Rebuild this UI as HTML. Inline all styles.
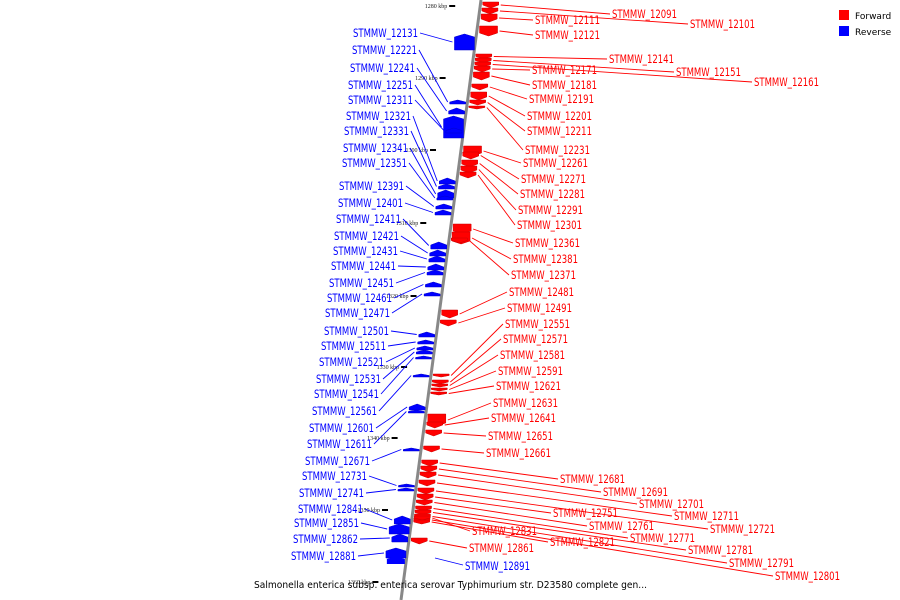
<!DOCTYPE html>
<html><head><meta charset="utf-8"><style>
body{margin:0;background:#fff;}
svg{display:block;font-family:"DejaVu Sans","Liberation Sans",sans-serif;}
</style></head><body>
<svg id="chart" width="900" height="600" xmlns="http://www.w3.org/2000/svg">
<line x1="481" y1="0" x2="401" y2="600" stroke="#888" stroke-width="3"/>
<g id="ticks"></g><g id="feats"></g><g id="leaders"></g><g id="labels"></g>
<g>
<rect x="839" y="10" width="10" height="10" fill="#f00"/>
<text x="855" y="19" font-size="9">Forward</text>
<rect x="839" y="26" width="10" height="10" fill="#00f"/>
<text x="855" y="35" font-size="9">Reverse</text>
</g>
<text x="254" y="588" font-size="9.5" textLength="393" lengthAdjust="spacingAndGlyphs">Salmonella enterica subsp. enterica serovar Typhimurium str. D23580 complete gen...</text>
</svg>
<script>
const NS="http://www.w3.org/2000/svg";
const fwdNames=["12091","12101","12111","12121","12141","12151","12161","12171","12181","12191","12201","12211","12231","12261","12271","12281","12291","12301","12361","12381","12371","12481","12491","12551","12571","12581","12591","12621","12631","12641","12651","12661","12681","12691","12701","12711","12721","12751","12761","12771","12781","12791","12801","12831","12821","12861"];
const fwdLabelX=[612,690,535,535,609,676,754,532,532,529,527,527,525,523,521,520,518,517,515,513,511,509,507,505,503,500,498,496,493,491,488,486,560,603,639,674,710,553,589,630,688,729,775,472,550,469];
const fwdLabelY=[14,24,20,35,59,72,82,70,85,99,116,131,150,163,179,194,210,225,243,259,275,292,308,324,339,355,371,386,403,418,436,453,479,492,504,516,529,513,526,538,550,563,576,531,542,548];
const fwdFeatY=[2,8,14,26,54,58,62,66,72,84,92,100,106,146,152,160,166,172,224,232,238,310,320,374,380,384,388,392,414,422,430,446,460,466,472,480,488,494,500,506,510,514,518,516,520,538];
const fwdLen=[6,6,8,10,5,5,5,6,8,6,8,5,3,10,7,7,7,6,10,12,5,8,6,3,4,3,3,3,12,6,6,6,6,6,6,6,6,6,5,5,5,5,4,4,4,6];
const revNames=["12131","12221","12241","12251","12311","12321","12331","12341","12351","12391","12401","12411","12421","12431","12441","12451","12461","12471","12501","12511","12521","12531","12541","12561","12601","12611","12671","12731","12741","12841","12851","12862","12881"];
const revLabelX=[418,417,415,413,413,411,409,408,407,404,403,401,399,398,396,394,392,390,389,386,384,381,379,377,374,372,370,367,364,363,359,358,356];
const revLabelY=[33,50,68,85,100,116,131,148,163,186,203,219,236,251,266,283,298,313,331,346,362,379,394,411,428,444,461,476,493,509,523,539,556];
const revFeatY=[34,100,108,116,128,178,184,190,196,204,210,242,250,256,264,270,282,292,332,340,346,350,356,374,404,410,448,484,488,516,524,534,548];
const revLen=[16,4,6,22,5,6,5,8,4,5,5,7,6,6,6,5,5,4,5,4,4,4,3,3,6,3,3,3,3,8,10,8,10];
const tickLabels=["1280 kbp","1290 kbp","1300 kbp","1310 kbp","1320 kbp","1330 kbp","1340 kbp","1350 kbp","1360 kbp"];
const tickY=[6,78,150,223,296,367,438,510,582];
function bx(y){return 481-80*y/600;}
const tg=document.getElementById('ticks'),fg=document.getElementById('feats'),lg=document.getElementById('leaders'),xg=document.getElementById('labels');
function mk(tag,attrs,parent){const e=document.createElementNS(NS,tag);for(const k in attrs)e.setAttribute(k,attrs[k]);parent.appendChild(e);return e;}
tickLabels.forEach((t,i)=>{const y=tickY[i],x=bx(y);
 const tx=mk('text',{x:x-33,y:y+2,'font-size':'6','font-family':'Liberation Serif,serif','text-anchor':'end',fill:'#222'},tg);tx.textContent=t;
 
 
 const m=mk('line',{x1:x-31,y1:y,x2:x-25,y2:y,stroke:'#000','stroke-width':2},tg);
 
 
});
fwdNames.forEach((n,i)=>{const y0=fwdFeatY[i],L=fwdLen[i],x=bx(y0)+2,w=L>8?18:16,tip=Math.min(3,L/2);
 const p=mk('polygon',{points:`${x},${y0} ${x+w},${y0} ${x+w},${y0+L-tip} ${x+w/2},${y0+L} ${x},${y0+L-tip}`,fill:'#f00',stroke:'#c00','stroke-width':0.5},fg);
 
 
 const ly=fwdLabelY[i];
 const l=mk('line',{x1:x+w+2,y1:y0+L/2,x2:fwdLabelX[i]-2,y2:ly,stroke:'#f00','stroke-width':0.9},lg);
 
 
 const t=mk('text',{x:fwdLabelX[i],y:ly+4,'font-size':'11.5',fill:'#f00',textLength:65,lengthAdjust:'spacingAndGlyphs'},xg);t.textContent='STMMW_'+n;
 
 
});
revNames.forEach((n,i)=>{const y0=revFeatY[i],L=revLen[i],x=bx(y0)-2,w=L>8?20:16,tip=Math.min(3,L/2);
 const p=mk('polygon',{points:`${x},${y0+L} ${x-w},${y0+L} ${x-w},${y0+tip} ${x-w/2},${y0} ${x},${y0+tip}`,fill:'#00f',stroke:'#00c','stroke-width':0.5},fg);
 
 
 const ly=revLabelY[i];
 const l=mk('line',{x1:x-w-2,y1:y0+L/2,x2:revLabelX[i]+2,y2:ly,stroke:'#00f','stroke-width':0.9},lg);
 
 
 const t=mk('text',{x:revLabelX[i]-65,y:ly+4,'font-size':'11.5',fill:'#00f',textLength:65,lengthAdjust:'spacingAndGlyphs'},xg);t.textContent='STMMW_'+n;
 
 
});
(function(){const y0=556,x=bx(y0)-2;
 const p=mk('polygon',{points:`${x},${y0+8} ${x-18},${y0+8} ${x-18},${y0+3} ${x-9},${y0} ${x},${y0+3}`,fill:'#00f'},fg);
 
 
 const l=mk('line',{x1:435,y1:558,x2:463,y2:565,stroke:'#00f','stroke-width':0.9},lg);
 
 
 const t=mk('text',{x:465,y:570,'font-size':'11.5',fill:'#00f',textLength:65,lengthAdjust:'spacingAndGlyphs'},xg);t.textContent='STMMW_12891';
 
 
})();
</script>
</body></html>
